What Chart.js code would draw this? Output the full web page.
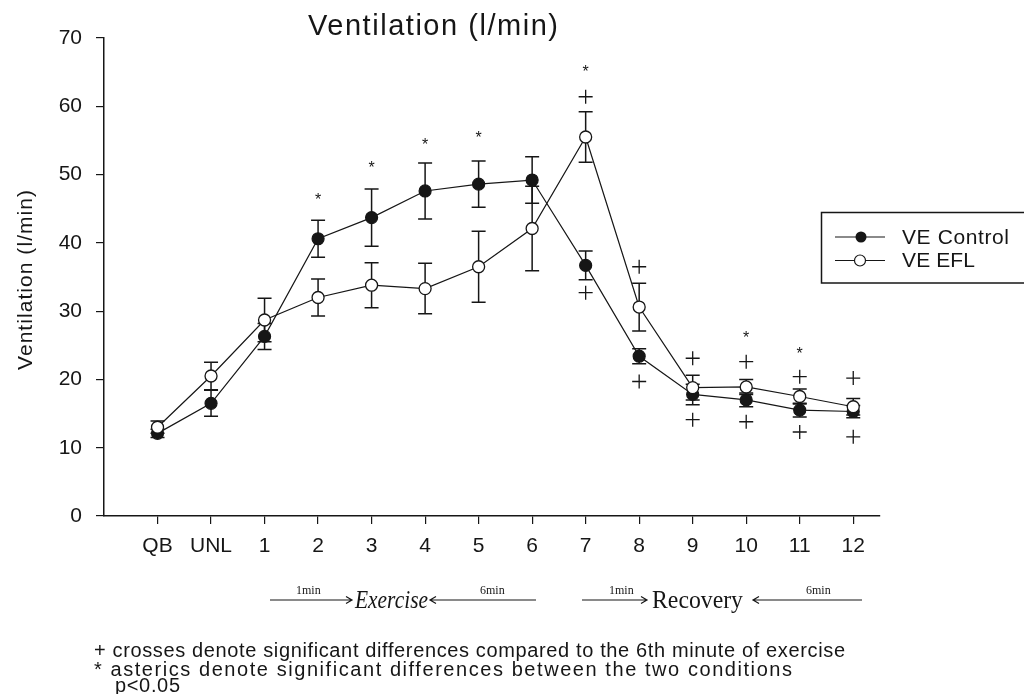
<!DOCTYPE html>
<html>
<head>
<meta charset="utf-8">
<title>Ventilation (l/min)</title>
<script src="https://cdn.jsdelivr.net/npm/chart.js@4"></script>
<style>
  html, body { margin: 0; padding: 0; background: #fff; }
  #wrap { width: 1024px; height: 694px; }
</style>
</head>
<body>
<div id="wrap"><canvas id="veChart" width="1024" height="694"></canvas></div>
<script>
// Ventilation during quiet breathing, unloaded, exercise and recovery

const categories = ['QB', 'UNL', '1', '2', '3', '4', '5', '6', '7', '8', '9', '10', '11', '12'];

const controlMean = [12.1, 16.5, 26.3, 40.6, 43.7, 47.6, 48.6, 49.2, 36.7, 23.4, 17.8, 17.0, 15.5, 15.3];
const controlErr  = [0.6, 1.9, 1.9, 2.7, 4.2, 4.1, 3.4, 3.4, 2.1, 1.1, 1.5, 1.0, 1.0, 0.9];

const eflMean = [13.0, 20.5, 28.7, 32.0, 33.8, 33.3, 36.5, 42.1, 55.5, 30.6, 18.8, 18.9, 17.5, 16.0];
const eflErr  = [0.9, 2.0, 3.2, 2.7, 3.3, 3.7, 5.2, 6.2, 3.7, 3.5, 1.8, 1.1, 1.1, 1.2];

// + markers (vs 6th minute of exercise)
const crossCats   = ['7', '7', '8', '8', '9', '9', '10', '10', '11', '11', '12', '12'];
const crossValues = [61.4, 32.7, 36.5, 19.7, 23.1, 14.1, 22.6, 13.8, 20.4, 12.3, 20.2, 11.6];

// * markers (between conditions)
const starCats   = ['2', '3', '4', '5', '7', '10', '11'];
const starValues = [46.9, 51.5, 54.9, 56.0, 65.6, 26.6, 24.3];

const yTicks = [0, 10, 20, 30, 40, 50, 60, 70];

const SANS = '"Liberation Sans", Arial, sans-serif';
const SERIF = '"Liberation Serif", "Times New Roman", serif';
const INK = '#161616';

function toPoints(values) {
  return values.map((v, i) => ({ x: i, y: v }));
}

function catPoints(cats, values) {
  return cats.map((c, i) => ({ x: categories.indexOf(c), y: values[i] }));
}

// left-aligned text fitted to a width: spread out if short, squeezed if long
function fitText(ctx, text, x, y, width) {
  ctx.letterSpacing = '0px';
  ctx.textAlign = 'left';
  const w = ctx.measureText(text).width;
  if (w >= width) {
    ctx.save();
    ctx.translate(x, y);
    ctx.scale(width / w, 1);
    ctx.fillText(text, 0, 0);
    ctx.restore();
    return;
  }
  const ls = text.length > 1 ? (width - w) / (text.length - 1) : 0;
  ctx.letterSpacing = ls + 'px';
  ctx.fillText(text, x, y);
  ctx.letterSpacing = '0px';
}

function arrow(ctx, x1, x2, y) {
  const dir = x2 > x1 ? 1 : -1;
  ctx.beginPath();
  ctx.moveTo(x1, y);
  ctx.lineTo(x2, y);
  ctx.moveTo(x2 - dir * 6, y - 3.5);
  ctx.lineTo(x2, y);
  ctx.lineTo(x2 - dir * 6, y + 3.5);
  ctx.stroke();
}

const errorBars = {
  id: 'errorBars',
  beforeDatasetsDraw(chart) {
    const { ctx, scales: { x, y } } = chart;
    ctx.save();
    ctx.strokeStyle = INK;
    ctx.lineWidth = 1.5;
    [[controlMean, controlErr], [eflMean, eflErr]].forEach(([mean, err]) => {
      mean.forEach((m, i) => {
        const px = x.getPixelForValue(i);
        const top = y.getPixelForValue(m + err[i]);
        const bot = y.getPixelForValue(m - err[i]);
        ctx.beginPath();
        ctx.moveTo(px, top); ctx.lineTo(px, bot);
        ctx.moveTo(px - 7, top); ctx.lineTo(px + 7, top);
        ctx.moveTo(px - 7, bot); ctx.lineTo(px + 7, bot);
        ctx.stroke();
      });
    });
    ctx.restore();
  }
};

const annotations = {
  id: 'annotations',
  afterDraw(chart) {
    const { ctx, scales: { x, y } } = chart;
    ctx.save();
    ctx.fillStyle = INK;
    ctx.strokeStyle = INK;
    ctx.textBaseline = 'alphabetic';

    // asterisks
    ctx.font = '16px ' + SANS;
    ctx.textAlign = 'center';
    starCats.forEach((c, i) => {
      const px = x.getPixelForValue(categories.indexOf(c));
      const py = y.getPixelForValue(starValues[i]);
      ctx.fillText('*', px, py + 9);
    });

    // title
    ctx.font = '29px ' + SANS;
    fitText(ctx, 'Ventilation (l/min)', 308, 35, 250);

    // y axis title
    ctx.save();
    ctx.translate(32, 370);
    ctx.rotate(-Math.PI / 2);
    ctx.font = '21px ' + SANS;
    fitText(ctx, 'Ventilation (l/min)', 0, 0, 180);
    ctx.restore();

    // legend
    ctx.lineWidth = 1.5;
    ctx.strokeRect(821.5, 212.5, 220, 70.5);
    ctx.lineWidth = 1.2;
    ctx.beginPath();
    ctx.moveTo(835, 237); ctx.lineTo(885, 237);
    ctx.moveTo(835, 260.5); ctx.lineTo(885, 260.5);
    ctx.stroke();
    ctx.beginPath();
    ctx.arc(861, 237, 5.5, 0, Math.PI * 2);
    ctx.fill();
    ctx.beginPath();
    ctx.arc(860, 260.5, 5.5, 0, Math.PI * 2);
    ctx.fillStyle = '#fff';
    ctx.fill();
    ctx.stroke();
    ctx.fillStyle = INK;
    ctx.font = '21px ' + SANS;
    fitText(ctx, 'VE Control', 902, 244, 107);
    fitText(ctx, 'VE EFL', 902, 267, 73);

    // exercise / recovery arrows
    ctx.lineWidth = 1.2;
    arrow(ctx, 270, 352, 600);
    arrow(ctx, 536, 430, 600);
    arrow(ctx, 582, 647, 600);
    arrow(ctx, 862, 753, 600);
    ctx.font = '12px ' + SERIF;
    ctx.textAlign = 'left';
    ctx.fillText('1min', 296, 594);
    ctx.fillText('6min', 480, 594);
    ctx.fillText('1min', 609, 594);
    ctx.fillText('6min', 806, 594);
    ctx.font = 'italic 25px ' + SERIF;
    fitText(ctx, 'Exercise', 355, 608, 73);
    ctx.font = '25px ' + SERIF;
    fitText(ctx, 'Recovery', 652, 608, 91);

    // footnote
    ctx.font = '20px ' + SANS;
    fitText(ctx, '+ crosses denote significant differences compared to the 6th minute of exercise', 94, 657, 751);
    fitText(ctx, '* asterics denote significant differences between the two conditions', 94, 675.5, 698);
    fitText(ctx, 'p<0.05', 115, 692, 65);

    ctx.restore();
  }
};

const ctx = document.getElementById('veChart').getContext('2d');

new Chart(ctx, {
  type: 'line',
  data: {
    datasets: [
      {
        label: 'VE EFL',
        data: toPoints(eflMean),
        borderColor: INK,
        borderWidth: 1.2,
        backgroundColor: '#fff',
        pointBackgroundColor: '#fff',
        pointBorderColor: INK,
        pointBorderWidth: 1.3,
        pointRadius: 6,
        tension: 0
      },
      {
        label: 'VE Control',
        data: toPoints(controlMean),
        borderColor: INK,
        borderWidth: 1.2,
        backgroundColor: INK,
        pointBackgroundColor: INK,
        pointBorderColor: INK,
        pointRadius: 6,
        tension: 0
      },
      {
        label: 'crosses',
        data: catPoints(crossCats, crossValues),
        showLine: false,
        pointStyle: 'cross',
        pointRadius: 7,
        pointBorderColor: INK,
        pointBorderWidth: 1.3
      }
    ]
  },
  options: {
    responsive: false,
    animation: false,
    devicePixelRatio: 1,
    layout: { padding: { top: 38, right: 144, left: 0, bottom: 0 } },
    plugins: {
      legend: { display: false },
      title: { display: false },
      tooltip: { enabled: false }
    },
    scales: {
      x: {
        type: 'linear',
        min: -1,
        max: 13.5,
        afterFit: s => { s.height = 178; },
        afterBuildTicks: s => { s.ticks = categories.map((_, i) => ({ value: i })); },
        ticks: {
          callback: v => categories[v],
          autoSkip: false,
          maxRotation: 0,
          padding: 10,
          color: INK,
          font: { family: SANS, size: 21 }
        },
        grid: { drawOnChartArea: false, drawTicks: true, tickLength: 8, color: INK, lineWidth: 1.2 },
        border: { color: INK, width: 1.5 }
      },
      y: {
        min: 0,
        max: 70,
        afterFit: s => { s.width = 104; },
        afterBuildTicks: s => { s.ticks = yTicks.map(v => ({ value: v })); },
        ticks: {
          padding: 14,
          color: INK,
          font: { family: SANS, size: 21 }
        },
        grid: { drawOnChartArea: false, drawTicks: true, tickLength: 8, color: INK, lineWidth: 1.2 },
        border: { color: INK, width: 1.5 }
      }
    }
  },
  plugins: [errorBars, annotations]
});
</script>
</body>
</html>
